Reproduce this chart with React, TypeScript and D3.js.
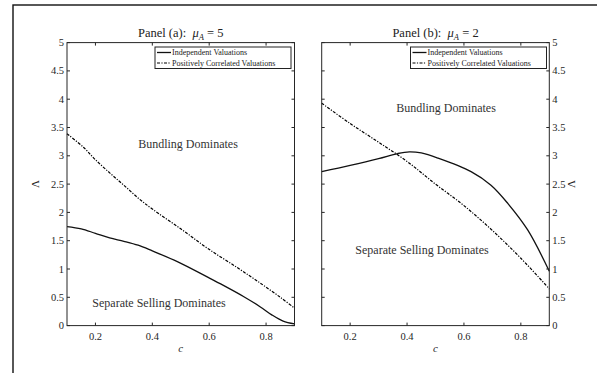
import React from "react";
import * as d3 from "d3";

const xTicks = [0.2, 0.4, 0.6, 0.8];
const yTicks = [0, 0.5, 1, 1.5, 2, 2.5, 3, 3.5, 4, 4.5, 5];
const legendLabels = ["Independent Valuations", "Positively Correlated Valuations"];

const aIndepC = [0.1, 0.15, 0.2, 0.25, 0.3, 0.35, 0.4, 0.488, 0.593, 0.65, 0.722, 0.78, 0.82, 0.86, 0.9];
const aIndepV = [1.75, 1.71, 1.63, 1.55, 1.49, 1.42, 1.32, 1.13, 0.86, 0.71, 0.51, 0.33, 0.19, 0.08, 0.03];
const aCorrC = [0.1, 0.158, 0.2, 0.252, 0.3, 0.351, 0.4, 0.5, 0.593, 0.7, 0.78, 0.85, 0.9];
const aCorrV = [3.39, 3.15, 2.93, 2.69, 2.48, 2.25, 2.06, 1.71, 1.37, 1.02, 0.75, 0.5, 0.31];

const bIndepC = [0.1, 0.2, 0.3, 0.367, 0.408, 0.45, 0.508, 0.625, 0.695, 0.754, 0.824, 0.9];
const bIndepV = [2.72, 2.83, 2.95, 3.04, 3.07, 3.05, 2.96, 2.72, 2.48, 2.16, 1.69, 0.96];
const bCorrC = [0.1, 0.2, 0.3, 0.4, 0.5, 0.6, 0.7, 0.8, 0.9];
const bCorrV = [3.93, 3.57, 3.24, 2.9, 2.5, 2.12, 1.68, 1.19, 0.65];

const FONT = "Liberation Serif, DejaVu Serif, Noto Serif, serif";
const AX = "#262626";
const DASH = "3,1.4,1.2,1.4";

type PanelProps = {
  left: number; right: number; top: number; bottom: number;
  side: "left" | "right";
  letter: string; mu: string;
  indepC: number[]; indepV: number[]; corrC: number[]; corrV: number[];
  bundle: [number, number]; separate: [number, number];
  legendX: number;
};

function Panel(p: PanelProps) {
  const x = d3.scaleLinear().domain([0.1, 0.9]).range([p.left, p.right]);
  const y = d3.scaleLinear().domain([0, 5]).range([p.bottom, p.top]);
  const line = d3.line<[number, number]>().x(d => x(d[0])).y(d => y(d[1])).curve(d3.curveCatmullRom.alpha(0.5));
  const indep = line(p.indepC.map((c, i) => [c, p.indepV[i]] as [number, number])) || "";
  const corr = line(p.corrC.map((c, i) => [c, p.corrV[i]] as [number, number])) || "";
  const tl = 3;
  const cx = (p.left + p.right) / 2;
  const lx = p.legendX;
  const lw = 136;
  return (
    <g style={{ fontFamily: FONT }}>
      <text x={cx} y={37} textAnchor="middle" fontSize={12.5} fill="#222">
        Panel ({p.letter}):{"\u2002"}
        <tspan fontStyle="italic">μ</tspan>
        <tspan fontStyle="italic" fontSize={8.5} dy={2.5}>A</tspan>
        <tspan dy={-2.5}>{"\u2005=\u2005"}{p.mu}</tspan>
      </text>
      <path d={corr} fill="none" stroke="#000" strokeWidth={1.2} strokeDasharray={DASH} />
      <path d={indep} fill="none" stroke="#111" strokeWidth={1.3} />
      <rect x={p.left} y={p.top} width={p.right - p.left} height={p.bottom - p.top} fill="none" stroke={AX} strokeWidth={1} />
      {xTicks.map(t => (
        <g key={"x" + t}>
          <line x1={x(t)} x2={x(t)} y1={p.bottom} y2={p.bottom - tl} stroke={AX} />
          <line x1={x(t)} x2={x(t)} y1={p.top} y2={p.top + tl} stroke={AX} />
          <text x={x(t)} y={340} textAnchor="middle" fontSize={10.5} fill="#262626">{t}</text>
        </g>
      ))}
      {yTicks.map(t => (
        <g key={"y" + t}>
          <line x1={p.left} x2={p.left + tl} y1={y(t)} y2={y(t)} stroke={AX} />
          <line x1={p.right} x2={p.right - tl} y1={y(t)} y2={y(t)} stroke={AX} />
          {p.side === "left" ? (
            <text x={p.left - 3} y={y(t) + 3.5} textAnchor="end" fontSize={10.5} fill="#262626">{t}</text>
          ) : (
            <text x={p.right + 3} y={y(t) + 3.5} textAnchor="start" fontSize={10.5} fill="#262626">{t}</text>
          )}
        </g>
      ))}
      <text x={cx} y={352} textAnchor="middle" fontSize={11} fontStyle="italic" fill="#262626">c</text>
      {p.side === "left" ? (
        <text transform={`translate(${p.left - 28},${y(2.5)}) rotate(-90)`} textAnchor="middle" fontSize={11} fill="#262626">Λ</text>
      ) : (
        <text transform={`translate(${p.right + 26},${y(2.5)}) rotate(-90)`} textAnchor="middle" fontSize={11} fill="#262626">Λ</text>
      )}
      <text x={p.bundle[0]} y={p.bundle[1]} textAnchor="middle" fontSize={12} fill="#333">Bundling Dominates</text>
      <text x={p.separate[0]} y={p.separate[1]} textAnchor="middle" fontSize={12} fill="#333">Separate Selling Dominates</text>
      <rect x={lx} y={47} width={lw} height={21.5} fill="#fff" stroke="#222" strokeWidth={1} />
      <line x1={lx + 2} x2={lx + 16} y1={52.5} y2={52.5} stroke="#111" strokeWidth={1.3} />
      <line x1={lx + 2} x2={lx + 16} y1={63} y2={63} stroke="#000" strokeWidth={1.2} strokeDasharray={DASH} />
      <text x={lx + 17} y={55.3} fontSize={8} fill="#222">{legendLabels[0]}</text>
      <text x={lx + 17} y={65.8} fontSize={8} fill="#222">{legendLabels[1]}</text>
    </g>
  );
}

export default function App() {
  return (
    <svg width={597} height={373} style={{ position: "absolute", left: 0, top: 0, background: "#fff" }}>
      <rect x={0} y={0} width={597} height={373} fill="#fff" />
      <rect x={13} y={5} width={700} height={500} fill="none" stroke="#111" strokeWidth={1.4} />
      <Panel left={67} right={294.5} top={42.6} bottom={325.6} side="left" letter="a" mu="5"
        indepC={aIndepC} indepV={aIndepV} corrC={aCorrC} corrV={aCorrV}
        bundle={[188, 148]} separate={[159, 307]} legendX={155} />
      <Panel left={321.7} right={549.3} top={42.6} bottom={325.6} side="right" letter="b" mu="2"
        indepC={bIndepC} indepV={bIndepV} corrC={bCorrC} corrV={bCorrV}
        bundle={[446, 112]} separate={[422, 254]} legendX={410.5} />
    </svg>
  );
}
